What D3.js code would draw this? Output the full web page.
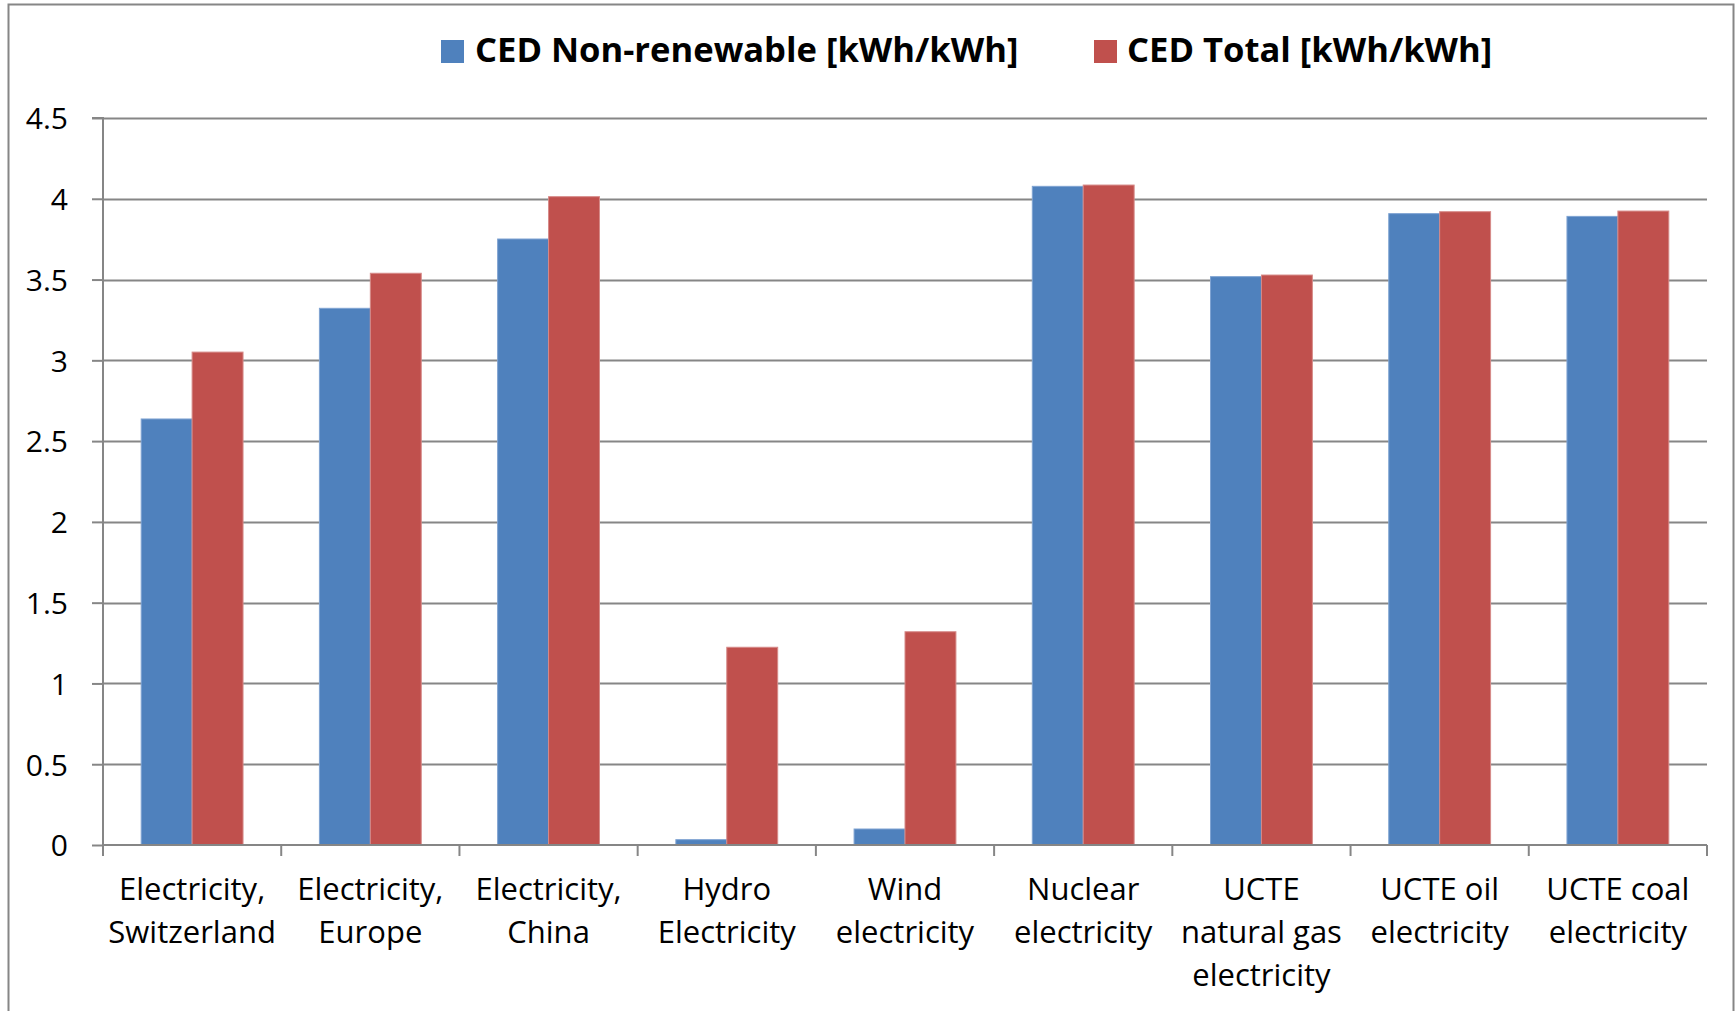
<!DOCTYPE html>
<html>
<head>
<meta charset="utf-8">
<script src="https://cdn.jsdelivr.net/npm/d3@7"></script>
<style>
  html, body { margin: 0; padding: 0; background: #fff; }
  svg { display: block; font-family: "Open Sans", "Noto Sans", sans-serif; }
</style>
</head>
<body>
<svg id="chart" width="1736" height="1011"></svg>
<script>
// Cumulative energy demand per kWh of delivered electricity
const categories = [
  ["Electricity,", "Switzerland"],
  ["Electricity,", "Europe"],
  ["Electricity,", "China"],
  ["Hydro", "Electricity"],
  ["Wind", "electricity"],
  ["Nuclear", "electricity"],
  ["UCTE", "natural gas", "electricity"],
  ["UCTE oil", "electricity"],
  ["UCTE coal", "electricity"]
];
const nonRenewable = [2.637, 3.322, 3.751, 0.033, 0.099, 4.077, 3.518, 3.908, 3.891];
const total        = [3.051, 3.539, 4.013, 1.224, 1.320, 4.085, 3.528, 3.920, 3.924];
const seriesNames  = ["CED Non-renewable [kWh/kWh]", "CED Total [kWh/kWh]"];
const seriesColors = ["#4F81BD", "#C0504D"];
const yTicks = [0, 0.5, 1, 1.5, 2, 2.5, 3, 3.5, 4, 4.5];

const svg = d3.select("#chart");
const plot = { left: 103, right: 1707, top: 118, bottom: 845 };
const axisColor = "#868686";

// outer chart frame
svg.append("rect")
  .attr("x", 8.5).attr("y", 4.5)
  .attr("width", 1733.5 - 8.5).attr("height", 1030)
  .attr("fill", "none").attr("stroke", axisColor).attr("stroke-width", 2);

const keys = categories.map((c, i) => i);
const x0 = d3.scaleBand().domain(keys).range([plot.left, plot.right]).paddingInner(0).paddingOuter(0);
// two bars per group, 150% gap between groups
const barW = x0.bandwidth() / 3.5;
const x1 = d3.scaleBand().domain([0, 1]).range([0, barW * 2]);
const y = d3.scaleLinear().domain([0, 4.5]).range([plot.bottom, plot.top]);

// horizontal gridlines
svg.append("g").selectAll("line").data(yTicks.filter(t => t > 0)).join("line")
  .attr("x1", plot.left).attr("x2", plot.right)
  .attr("y1", d => Math.round(y(d)) + 0.5).attr("y2", d => Math.round(y(d)) + 0.5)
  .attr("stroke", axisColor).attr("stroke-width", 2);

// bars
const series = [nonRenewable, total];
const groups = svg.append("g").selectAll("g").data(keys).join("g")
  .attr("transform", i => `translate(${x0(i) + barW * 0.75},0)`);
groups.selectAll("rect").data(i => series.map((s, k) => ({ k, v: s[i] }))).join("rect")
  .attr("x", d => x1(d.k))
  .attr("y", d => y(d.v))
  .attr("width", x1.bandwidth())
  .attr("height", d => y(0) - y(d.v))
  .attr("fill", d => seriesColors[d.k])
  .attr("stroke", d => d.k === 0 ? "#7FA3D2" : "#D68A88")
  .attr("stroke-width", 1);

// y axis
const yAxis = d3.axisLeft(y).tickValues(yTicks).tickSize(11).tickPadding(24)
  .tickFormat(d => d3.format("")(d));
const yg = svg.append("g").attr("transform", `translate(${plot.left},0)`).call(yAxis);
yg.select(".domain").attr("stroke", axisColor).attr("stroke-width", 2)
  .attr("d", `M-11,${plot.top}H0V${plot.bottom}`);
yg.selectAll(".tick line").attr("stroke", axisColor).attr("stroke-width", 2);
yg.selectAll(".tick text").attr("font-size", 30).attr("fill", "#000")
  .attr("font-family", "'Open Sans', sans-serif").attr("dy", "0.36em").attr("x", -35);

// x axis with tick marks at category boundaries
const boundaries = d3.range(categories.length + 1).map(i => plot.left + i * x0.bandwidth());
const xg = svg.append("g");
xg.append("line")
  .attr("x1", plot.left).attr("x2", plot.right)
  .attr("y1", plot.bottom).attr("y2", plot.bottom)
  .attr("stroke", axisColor).attr("stroke-width", 2);
xg.selectAll("line.tk").data(boundaries).join("line").attr("class", "tk")
  .attr("x1", d => d).attr("x2", d => d)
  .attr("y1", plot.bottom).attr("y2", plot.bottom + 11)
  .attr("stroke", axisColor).attr("stroke-width", 2);

// category labels
const labels = xg.selectAll("text.cat").data(keys).join("text").attr("class", "cat")
  .attr("text-anchor", "middle").attr("font-size", 31).attr("fill", "#000");
labels.selectAll("tspan").data(i => categories[i].map(t => ({ t, i }))).join("tspan")
  .attr("x", d => x0(d.i) + x0.bandwidth() / 2)
  .attr("y", (d, j) => 900 + j * 43)
  .text(d => d.t);

// legend
const legendItems = [
  { name: seriesNames[0], color: seriesColors[0], sx: 441, tx: 475 },
  { name: seriesNames[1], color: seriesColors[1], sx: 1094, tx: 1127 }
];
const lg = svg.append("g");
lg.selectAll("rect").data(legendItems).join("rect")
  .attr("x", d => d.sx).attr("y", 40).attr("width", 23).attr("height", 23)
  .attr("fill", d => d.color);
lg.selectAll("text").data(legendItems).join("text")
  .attr("x", d => d.tx).attr("y", 62)
  .attr("font-size", 34.6).attr("font-weight", "bold").attr("fill", "#000")
  .text(d => d.name);
</script>
</body>
</html>
